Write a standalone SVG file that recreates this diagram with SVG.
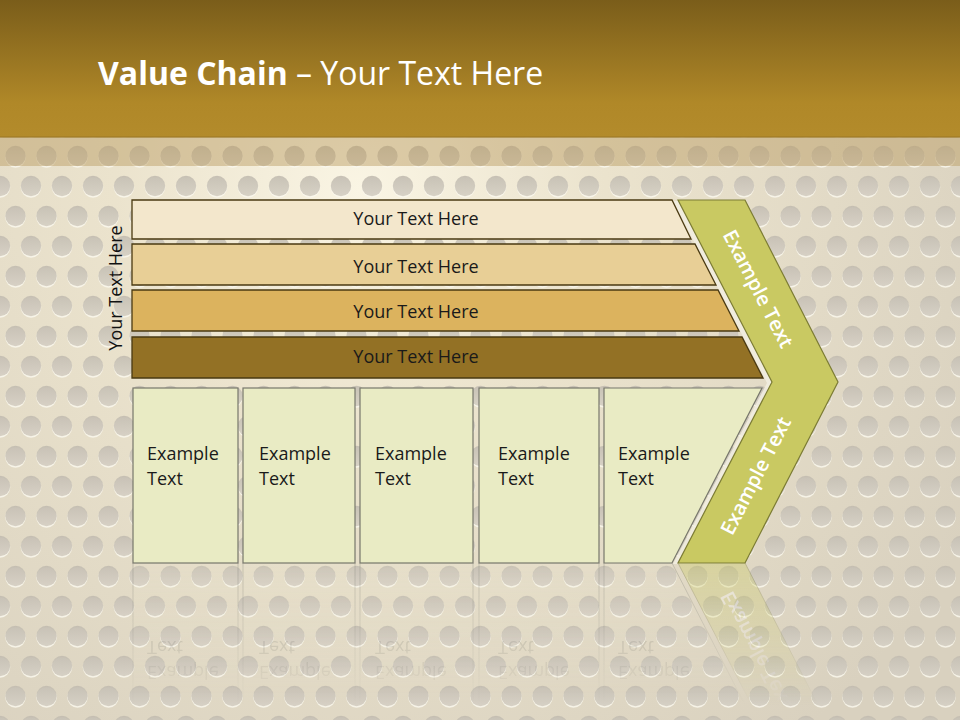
<svg xmlns="http://www.w3.org/2000/svg" width="960" height="720" viewBox="0 0 960 720">
<defs>
<style>
.bar{stroke:#4a3a12;stroke-width:1.3}
.bt{font-family:"Open Sans","Liberation Sans",sans-serif;font-size:18px;fill:#1a1a1a;text-anchor:middle}
.box{fill:#e9ebc4;stroke:#77776c;stroke-width:1.2}
.et{font-family:"Open Sans","Liberation Sans",sans-serif;font-size:18px;fill:#1a1a1a}
.ct{font-family:"Open Sans","Liberation Sans",sans-serif;font-size:20px;font-weight:600;fill:#ffffff;text-anchor:middle}
</style>
<linearGradient id="titleG" x1="0" y1="0" x2="0" y2="1">
<stop offset="0" stop-color="#7a5d1a"/>
<stop offset="0.75" stop-color="#b08828"/>
<stop offset="1" stop-color="#b38b2b"/>
</linearGradient>
<radialGradient id="bgG" cx="360" cy="190" r="700" gradientUnits="userSpaceOnUse">
<stop offset="0" stop-color="#faf5e4"/>
<stop offset="0.35" stop-color="#ebe3cd"/>
<stop offset="1" stop-color="#d9d1bf"/>
</radialGradient>
<linearGradient id="dotG" x1="0" y1="0" x2="0" y2="1">
<stop offset="0" stop-color="#c2bcb0"/>
<stop offset="1" stop-color="#d3cdc1"/>
</linearGradient>
<pattern id="dots" patternUnits="userSpaceOnUse" x="0" y="126" width="31" height="60">
<g>
<circle cx="15.5" cy="31.5" r="10.2" fill="#fbf8ee" opacity="0.85"/>
<circle cx="15.5" cy="30" r="10.2" fill="url(#dotG)" opacity="0.9"/>
<circle cx="0" cy="1.5" r="10.2" fill="#fbf8ee" opacity="0.85"/>
<circle cx="0" cy="0" r="10.2" fill="url(#dotG)" opacity="0.9"/>
<circle cx="31" cy="1.5" r="10.2" fill="#fbf8ee" opacity="0.85"/>
<circle cx="31" cy="0" r="10.2" fill="url(#dotG)" opacity="0.9"/>
<circle cx="0" cy="61.5" r="10.2" fill="#fbf8ee" opacity="0.85"/>
<circle cx="0" cy="60" r="10.2" fill="url(#dotG)" opacity="0.9"/>
<circle cx="31" cy="61.5" r="10.2" fill="#fbf8ee" opacity="0.85"/>
<circle cx="31" cy="60" r="10.2" fill="url(#dotG)" opacity="0.9"/>
</g>
</pattern>
<linearGradient id="fadeG" x1="0" y1="563" x2="0" y2="705" gradientUnits="userSpaceOnUse">
<stop offset="0" stop-color="#fff" stop-opacity="0.75"/>
<stop offset="1" stop-color="#fff" stop-opacity="0"/>
</linearGradient>
<mask id="fade" maskUnits="userSpaceOnUse" x="0" y="563" width="960" height="157">
<rect x="0" y="563" width="960" height="157" fill="url(#fadeG)"/>
</mask>
</defs>

<g id="background">
<rect width="960" height="720" fill="url(#bgG)"/>
<rect width="960" height="720" fill="url(#dots)"/>
<rect x="0" y="137" width="960" height="29" fill="#b89a5e" opacity="0.45"/>
</g>

<g id="title">
<rect x="0" y="0" width="960" height="137" fill="url(#titleG)"/>
<rect x="0" y="136" width="960" height="2" fill="#9c7a26" opacity="0.6"/>
<text x="98" y="85" font-family="Open Sans, Liberation Sans, sans-serif" font-size="32" fill="#ffffff"><tspan font-weight="bold">Value Chain</tspan> – Your Text Here</text>
</g>

<g id="side-label">
<text transform="translate(122,288) rotate(-90)" font-family="Open Sans, Liberation Sans, sans-serif" font-size="18" fill="#111" text-anchor="middle">Your Text Here</text>
</g>

<g id="chevron-shadow">
<polygon points="673,201 740,201 833,383 740,564 673,564 767,383" fill="#f2eee2" opacity="0.85"/>
</g>

<g id="bar1">
<polygon class="bar" points="132,200 672,200 691,239 132,239" fill="#f3e7cc"/>
<text class="bt" x="416" y="225">Your Text Here</text>
</g>
<g id="bar2">
<polygon class="bar" points="132,244 695,244 716,285 132,285" fill="#e8cf96"/>
<text class="bt" x="416" y="273">Your Text Here</text>
</g>
<g id="bar3">
<polygon class="bar" points="132,290 718,290 739,331 132,331" fill="#dcb35e"/>
<text class="bt" x="416" y="318">Your Text Here</text>
</g>
<g id="bar4">
<polygon class="bar" points="132,337 742,337 763,378 132,378" fill="#937125"/>
<text class="bt" x="416" y="363">Your Text Here</text>
</g>

<g id="box1">
<rect class="box" x="133" y="388" width="105" height="175"/>
<text class="et" x="147" y="460">Example</text>
<text class="et" x="147" y="485">Text</text>
</g>
<g id="box2">
<rect class="box" x="243" y="388" width="112" height="175"/>
<text class="et" x="259" y="460">Example</text>
<text class="et" x="259" y="485">Text</text>
</g>
<g id="box3">
<rect class="box" x="360" y="388" width="113" height="175"/>
<text class="et" x="375" y="460">Example</text>
<text class="et" x="375" y="485">Text</text>
</g>
<g id="box4">
<rect class="box" x="479" y="388" width="120" height="175"/>
<text class="et" x="498" y="460">Example</text>
<text class="et" x="498" y="485">Text</text>
</g>
<g id="box5">
<polygon class="box" points="604,388 762,388 672,563 604,563"/>
<text class="et" x="618" y="460">Example</text>
<text class="et" x="618" y="485">Text</text>
</g>

<g id="chevron">
<polygon points="678,200 745,200 838,382 745,563 678,563 772,382" fill="#c9c962" stroke="#7c7c34" stroke-width="1.2"/>
<text class="ct" transform="translate(752,292) rotate(62.7)">Example Text</text>
<text class="ct" transform="translate(762,479) rotate(-62.7)">Example Text</text>
</g>

<g id="reflection" mask="url(#fade)">
<g transform="translate(0,1126) scale(1,-1)" opacity="0.5">
<rect x="133" y="388" width="105" height="175" fill="#f1ecd2" fill-opacity="0.3" stroke="#8a8a80" stroke-width="1"/>
<rect x="243" y="388" width="112" height="175" fill="#f1ecd2" fill-opacity="0.3" stroke="#8a8a80" stroke-width="1"/>
<rect x="360" y="388" width="113" height="175" fill="#f1ecd2" fill-opacity="0.3" stroke="#8a8a80" stroke-width="1"/>
<rect x="479" y="388" width="120" height="175" fill="#f1ecd2" fill-opacity="0.3" stroke="#8a8a80" stroke-width="1"/>
<polygon points="604,388 762,388 672,563 604,563" fill="#f1ecd2" fill-opacity="0.3" stroke="#8a8a80" stroke-width="1"/>
<text class="et" x="147" y="460" style="fill:#6a6a60">Example</text>
<text class="et" x="147" y="485" style="fill:#6a6a60">Text</text>
<text class="et" x="259" y="460" style="fill:#6a6a60">Example</text>
<text class="et" x="259" y="485" style="fill:#6a6a60">Text</text>
<text class="et" x="375" y="460" style="fill:#6a6a60">Example</text>
<text class="et" x="375" y="485" style="fill:#6a6a60">Text</text>
<text class="et" x="498" y="460" style="fill:#6a6a60">Example</text>
<text class="et" x="498" y="485" style="fill:#6a6a60">Text</text>
<text class="et" x="618" y="460" style="fill:#6a6a60">Example</text>
<text class="et" x="618" y="485" style="fill:#6a6a60">Text</text>
<polygon points="772,382 838,382 745,563 678,563" fill="#c9c962" stroke="#7c7c34" stroke-width="1"/>
<text class="ct" transform="translate(762,479) rotate(-62.7)">Example Text</text>
</g>
</g>

<g id="connectors"/>
</svg>
